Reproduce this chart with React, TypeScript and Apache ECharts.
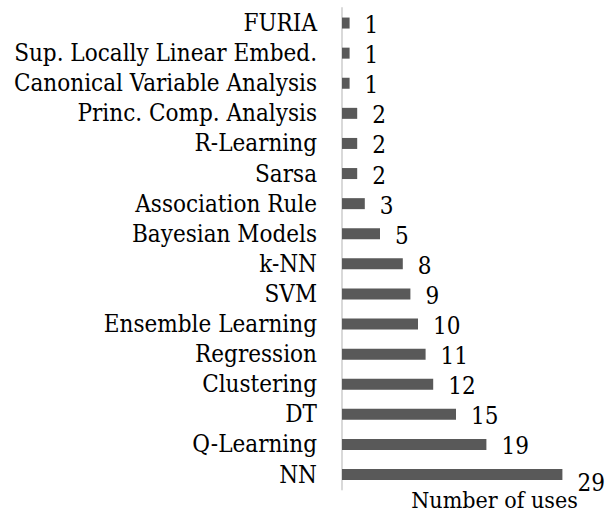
import React, { useEffect, useRef } from "react";
import * as echarts from "echarts";

const categories = [
  "NN",
  "Q-Learning",
  "DT",
  "Clustering",
  "Regression",
  "Ensemble Learning",
  "SVM",
  "k-NN",
  "Bayesian Models",
  "Association Rule",
  "Sarsa",
  "R-Learning",
  "Princ. Comp. Analysis",
  "Canonical Variable Analysis",
  "Sup. Locally Linear Embed.",
  "FURIA",
];
const uses = [29, 19, 15, 12, 11, 10, 9, 8, 5, 3, 2, 2, 2, 1, 1, 1];
const axisTitle = "Number of uses";

const FONT = "DejaVu Serif Condensed";

export default function App() {
  const ref = useRef<HTMLDivElement>(null);
  useEffect(() => {
    if (!ref.current) return;
    const chart = echarts.init(ref.current, undefined, { renderer: "svg" });
    const data = uses.map((v, i) =>
      i === 0 ? { value: v, label: { offset: [0, 8] } } : v
    );
    chart.setOption({
      animation: false,
      backgroundColor: "#ffffff",
      grid: {
        left: 342,
        top: 8,
        width: 228,
        height: 481.6,
        containLabel: false,
        outerBoundsMode: "none",
      },
      xAxis: {
        type: "value",
        min: 0,
        max: 30,
        show: false,
      },
      yAxis: {
        type: "category",
        data: categories,
        axisLine: { show: true, lineStyle: { color: "#d9d9d9", width: 2 } },
        axisTick: { show: false },
        axisLabel: {
          interval: 0,
          margin: 25,
          color: "#000000",
          fontFamily: FONT,
          fontSize: 24,
        },
        splitLine: { show: false },
      },
      series: [
        {
          type: "bar",
          data,
          barWidth: 11,
          itemStyle: { color: "#595959" },
          label: {
            show: true,
            position: "right",
            distance: 15,
            offset: [0, 2],
            color: "#000000",
            fontFamily: FONT,
            fontSize: 24,
          },
        },
      ],
      graphic: [
        {
          type: "text",
          x: 494.5,
          y: 500,
          style: {
            text: axisTitle,
            fill: "#000000",
            fontFamily: FONT,
            fontSize: 23,
            textAlign: "center",
            textVerticalAlign: "middle",
          },
        },
      ],
    });
    return () => chart.dispose();
  }, []);
  return <div ref={ref} style={{ width: 607, height: 512, position: "absolute", left: 0, top: 0 }} />;
}
